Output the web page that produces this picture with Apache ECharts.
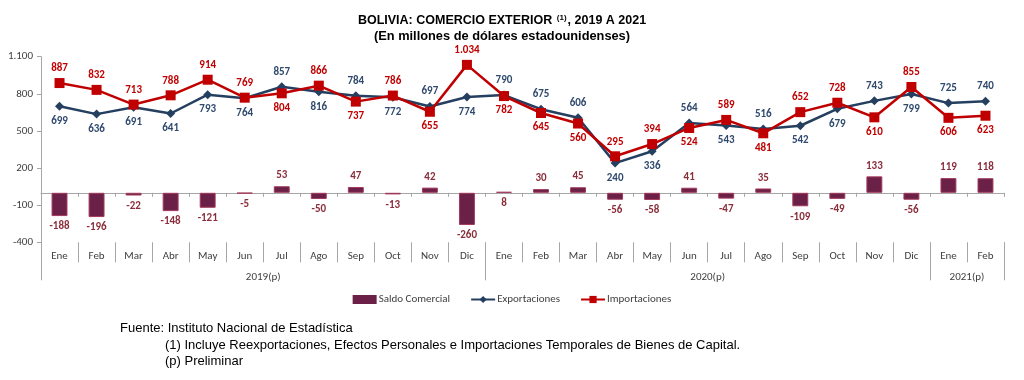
<!DOCTYPE html>
<html><head><meta charset="utf-8">
<script src="https://cdn.jsdelivr.net/npm/echarts@6/dist/echarts.min.js"></script>
<style>html,body{margin:0;padding:0;background:#fff}#c{width:1024px;height:380px}</style>
</head><body><div id="c"></div>
<script>
const months = ['Ene','Feb','Mar','Abr','May','Jun','Jul','Ago','Sep','Oct','Nov','Dic',
                'Ene','Feb','Mar','Abr','May','Jun','Jul','Ago','Sep','Oct','Nov','Dic',
                'Ene','Feb'];
const years = ['2019(p)','2020(p)','2021(p)'];
const yearSpans = [12,12,2];
const exportaciones = [699,636,691,641,793,764,857,816,784,772,697,774,
                       790,675,606,240,336,564,543,516,542,679,743,799,
                       725,740];
const importaciones = [887,832,713,788,914,769,804,866,737,786,655,1034,
                       782,645,560,295,394,524,589,481,652,728,610,855,
                       606,623];
const saldo = [-188,-196,-22,-148,-121,-5,53,-50,47,-13,42,-260,
               8,30,45,-56,-58,41,-47,35,-109,-49,133,-56,
               119,118];
const yMin = -400, yMax = 1100, yStep = 300;

function fmt(v){
  const n = Math.abs(v);
  const s = n >= 1000 ? Math.floor(n/1000) + '.' + String(n%1000).padStart(3,'0') : String(n);
  return (v < 0 ? '-' : '') + s;
}
const FONT = 'Carlito, Lato, "Liberation Sans", sans-serif';
const AR = '"Liberation Sans", Arial, sans-serif';

// year boundaries and midpoints
const yearBounds = [0];
yearSpans.forEach(s => yearBounds.push(yearBounds[yearBounds.length-1] + s));
const yearMids = yearSpans.map((s,i) => yearBounds[i] + s/2);

const chart = echarts.init(document.getElementById('c'), null, {renderer:'canvas'});
const option = {
  animation: false,
  backgroundColor: '#ffffff',
  textStyle: {fontFamily: FONT},
  grid: {left: 41, right: 20, top: 56.7, bottom: 137.7, containLabel: false},
  legend: {
    top: 289, left: 'center', itemGap: 20, itemWidth: 24, itemHeight: 9,
    textStyle: {fontFamily: FONT, fontSize: 11, color: '#404040', padding:[0,0,0,-3]},
    data: [
      {name: 'Saldo Comercial', icon: 'rect', itemStyle:{borderWidth:0}},
      {name: 'Exportaciones'},
      {name: 'Importaciones'}
    ]
  },
  xAxis: [
    { // zero line axis
      type: 'category', data: months, position: 'bottom',
      axisLine: {onZero: true, lineStyle: {color: '#a6a6a6', width: 1}},
      axisTick: {show: true, length: 4, lineStyle: {color: '#a6a6a6'}},
      axisLabel: {show: false}, splitLine: {show: false}
    },
    { // month labels
      type: 'category', data: months, position: 'bottom',
      axisLine: {show: false, onZero: false},
      axisTick: {show: true, length: 20, interval: 0, lineStyle: {color: '#a6a6a6'}},
      axisLabel: {show: true, interval: 0, margin: 8, fontSize: 11, color: '#404040', fontFamily: FONT},
      splitLine: {show: false}
    },
    { // year labels
      type: 'value', min: 0, max: yearBounds[yearBounds.length-1], position: 'bottom',
      axisLine: {show: false, onZero: false},
      axisTick: {show: true, length: 38, customValues: yearBounds, lineStyle: {color: '#a6a6a6'}},
      axisLabel: {show: true, customValues: yearMids, margin: 29, fontSize: 11, color: '#404040', fontFamily: FONT,
        formatter: v => years[yearMids.indexOf(v)] || ''},
      splitLine: {show: false}
    }
  ],
  yAxis: {
    type: 'value', min: yMin, max: yMax, interval: yStep,
    axisLine: {show: true, lineStyle: {color: '#a6a6a6'}},
    axisTick: {show: true, length: 4, lineStyle: {color: '#a6a6a6'}},
    axisLabel: {fontSize: 11, color: '#404040', margin: 8, fontFamily: FONT, formatter: v => fmt(v)},
    splitLine: {show: false}
  },
  series: [
    {
      name: 'Saldo Comercial', type: 'bar', xAxisIndex: 0, barWidth: '43%',
      itemStyle: {color: '#6b2147', borderColor: '#a33a5c', borderWidth: 1},
      label: {show: true, position: 'outside', distance: 5, color: '#8b2e3c', fontWeight: 'bold',
              fontSize: 11, fontFamily: FONT, formatter: p => fmt(p.value)},
      data: saldo
    },
    {
      name: 'Exportaciones', type: 'line', xAxisIndex: 0, symbol: 'diamond', symbolSize: 9,
      lineStyle: {color: '#243f60', width: 2.5}, itemStyle: {color: '#243f60'},
      label: {show: true, color: '#2f4a6e', fontWeight: 'bold', fontSize: 11, fontFamily: FONT,
              distance: 5, formatter: p => fmt(p.value)},
      z: 3,
      data: exportaciones.map((v,i) => ({value: v, label: {position: v >= importaciones[i] ? 'top' : 'bottom'}}))
    },
    {
      name: 'Importaciones', type: 'line', xAxisIndex: 0, symbol: 'rect', symbolSize: 10,
      lineStyle: {color: '#c00000', width: 2.5}, itemStyle: {color: '#c00000'},
      label: {show: true, color: '#c00000', fontWeight: 'bold', fontSize: 11, fontFamily: FONT,
              distance: 4, formatter: p => fmt(p.value)},
      z: 4,
      data: importaciones.map((v,i) => ({value: v, label: {position: v > exportaciones[i] ? 'top' : 'bottom'}}))
    }
  ],
  graphic: [
    {type: 'text', x: 502, y: 14, style: {
      text: '{a|BOLIVIA: COMERCIO EXTERIOR }{s|(1)}{a|, 2019 A 2021}',
      textAlign: 'center',
      rich: {
        a: {fontFamily: AR, fontWeight: 'bold', fontSize: 12.5, fill: '#000'},
        s: {fontFamily: AR, fontWeight: 'bold', fontSize: 8, fill: '#000', verticalAlign: 'top', padding:[0,1,6,1]}
      }
    }},
    {type: 'text', x: 502, y: 30, style: {
      text: '(En millones de dólares estadounidenses)', textAlign: 'center',
      font: 'bold 12.8px ' + AR, fill: '#000'
    }},
    {type: 'text', left: 120, top: 322, style: {
      text: 'Fuente: Instituto Nacional de Estadística',
      font: '13px ' + AR, fill: '#000'
    }},
    {type: 'text', left: 165, top: 339, style: {
      text: '(1) Incluye Reexportaciones, Efectos Personales e Importaciones Temporales de Bienes de Capital.',
      font: '13px ' + AR, fill: '#000'
    }},
    {type: 'text', left: 165, top: 355, style: {
      text: '(p) Preliminar',
      font: '13px ' + AR, fill: '#000'
    }}
  ]
};
chart.setOption(option);
</script>
</body></html>
